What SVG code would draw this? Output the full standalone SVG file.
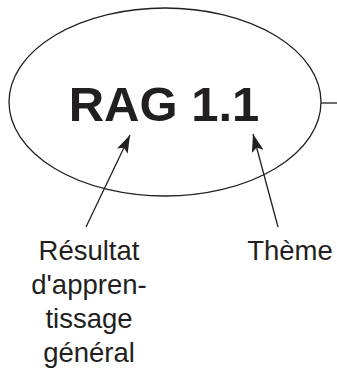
<svg xmlns="http://www.w3.org/2000/svg" width="337" height="375" viewBox="0 0 337 375">
<style>
.lbl{font-family:"Liberation Sans",Arial,sans-serif;font-size:27.5px;fill:#231f20;text-anchor:middle}
.big{font-family:"Liberation Sans",Arial,sans-serif;font-size:49px;font-weight:bold;fill:#231f20;text-anchor:middle}
.ln{stroke:#231f20;stroke-width:1.3;fill:none}
</style>
<defs>
<marker id="ah" markerUnits="userSpaceOnUse" markerWidth="20" markerHeight="12" refX="18" refY="6" orient="auto">
<path d="M0,0 L18,6 L0,12 L4,6 z" fill="#231f20"/>
</marker>
</defs>
<g id="node-rag">
<ellipse cx="165" cy="102" rx="156" ry="94" class="ln"/>
<text class="big" x="164" y="121">RAG 1.1</text>
</g>
<g id="node-resultat">
<text class="lbl" x="89" y="260">Résultat</text>
<text class="lbl" x="89" y="294">d'appren-</text>
<text class="lbl" x="89" y="328">tissage</text>
<text class="lbl" x="89" y="362">général</text>
</g>
<g id="node-theme">
<text class="lbl" x="290" y="260">Thème</text>
</g>
<g id="connectors">
<line class="ln" x1="86" y1="227" x2="130" y2="135" marker-end="url(#ah)"/>
<line class="ln" x1="278" y1="227" x2="253" y2="134" marker-end="url(#ah)"/>
<line class="ln" x1="321" y1="103" x2="337" y2="103"/>
</g>
</svg>
